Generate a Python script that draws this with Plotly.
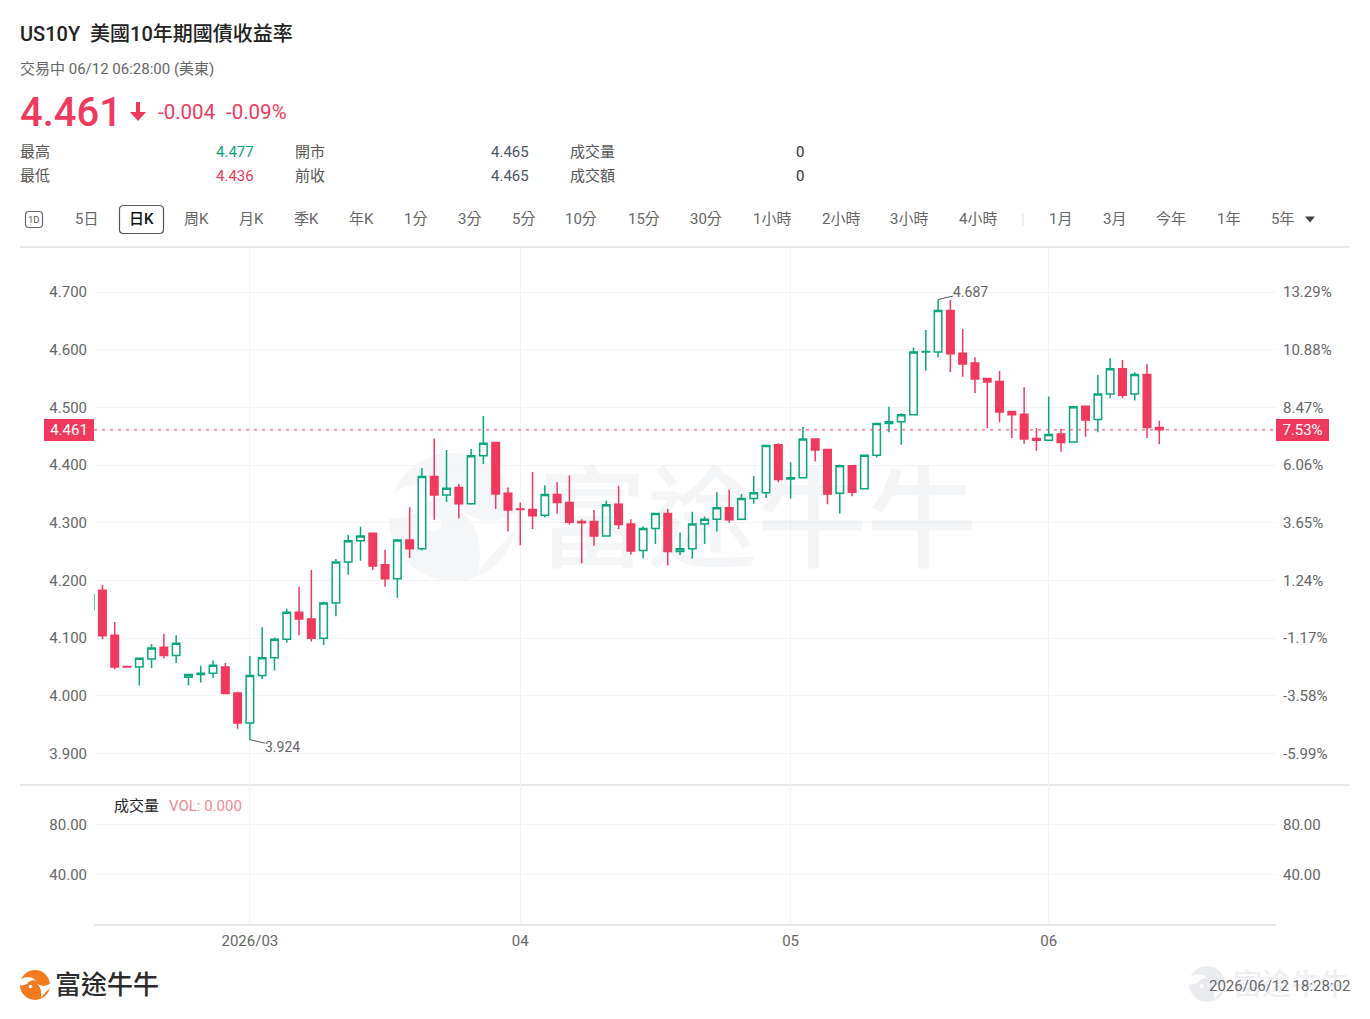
import plotly.graph_objects as go

W, H = 1370, 1019

# Daily bars of the US 10-year yield; session -1 is the one cut off at the left edge.
opens = [
    4.149, 4.183, 4.105, 4.051, 4.050, 4.064, 4.084, 4.070, 4.032, 4.037, 4.039, 4.050,
    4.005, 3.953, 4.035, 4.066, 4.098, 4.145, 4.133, 4.100, 4.161, 4.232, 4.269, 4.282,
    4.227, 4.203, 4.270, 4.255, 4.380, 4.348, 4.361, 4.333, 4.416, 4.439, 4.351, 4.324,
    4.323, 4.313, 4.349, 4.335, 4.302, 4.302, 4.277, 4.332, 4.298, 4.252, 4.290, 4.316,
    4.250, 4.255, 4.298, 4.306, 4.326, 4.306, 4.342, 4.352, 4.435, 4.376, 4.378, 4.445,
    4.427, 4.351, 4.399, 4.359, 4.417, 4.472, 4.475, 4.487, 4.596, 4.596, 4.668, 4.594,
    4.577, 4.550, 4.545, 4.493, 4.488, 4.446, 4.443, 4.454, 4.440, 4.502, 4.479, 4.523,
    4.567, 4.523, 4.557, 4.465,
]
highs = [
    4.175, 4.192, 4.128, 4.051, 4.065, 4.090, 4.107, 4.105, 4.038, 4.052, 4.061, 4.057,
    4.007, 4.069, 4.119, 4.101, 4.151, 4.189, 4.218, 4.163, 4.237, 4.279, 4.293, 4.283,
    4.253, 4.272, 4.327, 4.395, 4.446, 4.426, 4.367, 4.428, 4.485, 4.440, 4.361, 4.335,
    4.388, 4.365, 4.370, 4.382, 4.306, 4.322, 4.338, 4.364, 4.306, 4.294, 4.317, 4.324,
    4.283, 4.319, 4.311, 4.353, 4.357, 4.350, 4.381, 4.435, 4.438, 4.405, 4.466, 4.445,
    4.427, 4.401, 4.400, 4.417, 4.473, 4.501, 4.490, 4.604, 4.634, 4.687, 4.686, 4.636,
    4.587, 4.551, 4.563, 4.494, 4.535, 4.464, 4.519, 4.463, 4.503, 4.503, 4.556, 4.585,
    4.582, 4.561, 4.575, 4.477,
]
lows = [
    4.149, 4.098, 4.046, 4.050, 4.018, 4.048, 4.065, 4.057, 4.018, 4.023, 4.031, 4.003,
    3.943, 3.924, 4.029, 4.044, 4.092, 4.105, 4.094, 4.088, 4.138, 4.210, 4.234, 4.218,
    4.189, 4.170, 4.239, 4.252, 4.305, 4.336, 4.308, 4.331, 4.402, 4.324, 4.285, 4.261,
    4.289, 4.309, 4.316, 4.297, 4.230, 4.260, 4.276, 4.289, 4.245, 4.238, 4.263, 4.226,
    4.244, 4.238, 4.263, 4.285, 4.300, 4.305, 4.333, 4.343, 4.370, 4.342, 4.377, 4.406,
    4.332, 4.316, 4.346, 4.358, 4.413, 4.457, 4.435, 4.486, 4.564, 4.587, 4.561, 4.553,
    4.525, 4.464, 4.474, 4.447, 4.437, 4.425, 4.442, 4.423, 4.439, 4.449, 4.457, 4.516,
    4.516, 4.512, 4.447, 4.436,
]
closes = [
    4.175, 4.104, 4.050, 4.050, 4.065, 4.083, 4.070, 4.091, 4.037, 4.039, 4.053, 4.004,
    3.953, 4.035, 4.066, 4.098, 4.145, 4.133, 4.100, 4.161, 4.232, 4.269, 4.277, 4.225,
    4.203, 4.270, 4.255, 4.380, 4.348, 4.360, 4.333, 4.416, 4.438, 4.350, 4.322, 4.323,
    4.312, 4.349, 4.335, 4.301, 4.300, 4.277, 4.331, 4.297, 4.251, 4.290, 4.316, 4.250,
    4.255, 4.298, 4.306, 4.326, 4.305, 4.342, 4.352, 4.434, 4.375, 4.378, 4.445, 4.426,
    4.350, 4.399, 4.353, 4.417, 4.472, 4.475, 4.487, 4.596, 4.597, 4.668, 4.593, 4.575,
    4.549, 4.544, 4.492, 4.487, 4.445, 4.443, 4.453, 4.439, 4.501, 4.478, 4.523, 4.567,
    4.521, 4.557, 4.465, 4.461,
]
sessions = list(range(-1, len(opens) - 1))
volumes = [0] * len(sessions)

price_ticks = [3.9, 4.0, 4.1, 4.2, 4.3, 4.4, 4.5, 4.6, 4.7]
pct_ticks = [-5.99, -3.58, -1.17, 1.24, 3.65, 6.06, 8.47, 10.88, 13.29]
volume_ticks = [40, 80]
month_ticks = [12, 34, 56, 77]
month_labels = ["2026/03", "04", "05", "06"]

base_price = 4.1485
last_price = 4.461
last_pct = 7.53
low_mark = (12, 3.924)
high_mark = (68, 4.687)

RED = "#ef3a5d"
GREEN = "#0aa67e"
GREY = "#666666"
GRID = "#f4f4f4"
RULE = "#e8e8e8"
FONT = "Roboto, 'Noto Sans CJK TC', sans-serif"

# Panel edges and axis ranges, in page pixels and data units.
LEFT, RIGHT = 94, 1276
PANEL_TOP, PANEL_MID, PANEL_BOTTOM = 247, 785, 925
PRICE_RANGE = [3.8454, 4.778]
PCT_RANGE = [(PRICE_RANGE[0] / base_price - 1) * 100, (PRICE_RANGE[1] / base_price - 1) * 100]
VOLUME_RANGE = [-0.4, 111.6]
SESSION_RANGE = [-0.685, 95.495]


def px(x):
    return x / W


def py(y):
    return 1 - y / H


fig = go.Figure()

fig.add_trace(go.Candlestick(
    x=sessions, open=opens, high=highs, low=lows, close=closes,
    xaxis="x", yaxis="y", whiskerwidth=0, showlegend=False, hoverinfo="skip",
    increasing=dict(line=dict(color=GREEN, width=1.5), fillcolor="#ffffff"),
    decreasing=dict(line=dict(color=RED, width=1.5), fillcolor=RED),
))
# Percent scale on the right shares the price panel.
fig.add_trace(go.Scatter(
    x=sessions, y=[(c / base_price - 1) * 100 for c in closes], xaxis="x", yaxis="y2",
    mode="lines", line=dict(width=0), showlegend=False, hoverinfo="skip",
))
fig.add_trace(go.Bar(
    x=sessions, y=volumes, xaxis="x2", yaxis="y3", marker=dict(color=GREEN, line=dict(width=0)),
    showlegend=False, hoverinfo="skip",
))
fig.add_trace(go.Scatter(
    x=sessions, y=volumes, xaxis="x2", yaxis="y4",
    mode="lines", line=dict(width=0), showlegend=False, hoverinfo="skip",
))

ann = []


def label(x, y, text, size=15, color=GREY, anchor="left", weight=400, family=FONT):
    ann.append(dict(
        x=px(x), y=py(y + 1), xref="paper", yref="paper", text=text, showarrow=False,
        xanchor=anchor, yanchor="middle", align=anchor, borderpad=0, borderwidth=0,
        font=dict(size=size, color=color, family=family, weight=weight),
    ))


def rect(x0, y0, x1, y1, line=None, fill=None, width=1, radius=0, layer="above"):
    if radius:
        r = radius
        sx, sy = r / W, r / H
        a0, a1 = px(x0), px(x1)
        b0, b1 = py(y0), py(y1)
        path = (
            f"M {a0 + sx} {b0} L {a1 - sx} {b0} Q {a1} {b0} {a1} {b0 - sy} "
            f"L {a1} {b1 + sy} Q {a1} {b1} {a1 - sx} {b1} L {a0 + sx} {b1} "
            f"Q {a0} {b1} {a0} {b1 + sy} L {a0} {b0 - sy} Q {a0} {b0} {a0 + sx} {b0} Z"
        )
        return dict(type="path", path=path, xref="paper", yref="paper", layer=layer,
                    line=dict(color=line or "rgba(0,0,0,0)", width=width), fillcolor=fill or "rgba(0,0,0,0)")
    return dict(type="rect", x0=px(x0), x1=px(x1), y0=py(y0), y1=py(y1), xref="paper", yref="paper",
                layer=layer, line=dict(color=line or "rgba(0,0,0,0)", width=width if line else 0),
                fillcolor=fill or "rgba(0,0,0,0)")


def hline(x0, x1, y, color=RULE, width=2):
    return dict(type="line", x0=px(x0), x1=px(x1), y0=py(y), y1=py(y), xref="paper", yref="paper",
                layer="below", line=dict(color=color, width=width))


def brand_mark(cx, cy, r, color, layer="above"):
    """Round brand badge with its two cut-outs, centred on a page position."""
    def pt(u, v):
        return f"{px(cx + u * r):.5f} {py(cy + v * r):.5f}"

    disc = dict(type="circle", x0=px(cx - r), x1=px(cx + r), y0=py(cy + r), y1=py(cy - r),
                xref="paper", yref="paper", layer=layer, fillcolor=color, line=dict(width=0))
    cut_a = (f"M {pt(-1.05, -0.3)} Q {pt(-0.45, -0.75)} {pt(0.1, -0.3)} Q {pt(-0.3, -0.38)} {pt(-0.5, -0.1)} "
             f"Q {pt(-0.7, 0.05)} {pt(-1.05, 0.02)} Z")
    cut_b = (f"M {pt(0.1, -0.12)} Q {pt(0.55, 0.25)} {pt(1.05, -0.12)} L {pt(1.05, 0.15)} "
             f"Q {pt(0.7, 0.45)} {pt(0.4, 0.85)} Q {pt(0.5, 0.2)} {pt(0.1, -0.12)} Z")
    cuts = [dict(type="path", path=p, xref="paper", yref="paper", layer=layer,
                 fillcolor="#ffffff", line=dict(width=0)) for p in (cut_a, cut_b)]
    eye = dict(type="circle", x0=px(cx - 0.42 * r), x1=px(cx - 0.18 * r), y0=py(cy + 0.22 * r), y1=py(cy - 0.02 * r),
               xref="paper", yref="paper", layer=layer, fillcolor="#ffffff", line=dict(width=0))
    return [disc] + cuts + [eye]


# Quote header
label(20, 33.5, "US10Y&nbsp;&nbsp;美國10年期國債收益率", size=20, color="#222222", weight=500)
label(20, 68.5, "交易中 06/12 06:28:00 (美東)")
label(20, 112, "4.461", size=40, color=RED, weight=500)
label(157.5, 111, "-0.004", size=20.5, color=RED)
label(226, 111, "-0.09%", size=20.5, color=RED)

for row_y, name, value, value_color, name2, value2, name3, value3 in [
    (150.5, "最高", "4.477", GREEN, "開市", "4.465", "成交量", "0"),
    (175.5, "最低", "4.436", RED, "前收", "4.465", "成交額", "0"),
]:
    label(20, row_y, name, color="#555555")
    label(254, row_y, value, color=value_color, anchor="right")
    label(295, row_y, name2, color="#555555")
    label(529, row_y, value2, color="#4b5563", anchor="right")
    label(570, row_y, name3, color="#555555")
    label(804, row_y, value3, color="#333333", anchor="right")

# Period selector
tab_labels = ["5日", "周K", "月K", "季K", "年K", "1分", "3分", "5分", "10分", "15分", "30分",
              "1小時", "2小時", "3小時", "4小時", "1月", "3月", "今年", "1年", "5年"]
tab_centres = [87, 196.5, 251.5, 306.5, 361.5, 415, 469, 523, 581, 644, 706,
               772, 841, 909, 978, 1060, 1114, 1171, 1228, 1282]
for name, cx in zip(tab_labels, tab_centres):
    label(cx, 218.5, name, anchor="center")
label(141.5, 218.5, "日K", color="#111111", anchor="center", weight=500)
label(34, 218.5, "1D", size=9.5, anchor="center", color="#555555")

# Chart side labels and leaders
label(113.5, 804.5, "成交量", color="#222222")
label(168.5, 804.5, "VOL: 0.000", color="#ee8a92")

for session, price, ax, ay in [(low_mark[0], low_mark[1], 32.5, 7.5), (high_mark[0], high_mark[1], 32.5, -7.5)]:
    ann.append(dict(
        x=session, y=price, xref="x", yref="y", text=f"{price:.3f}", showarrow=True, arrowhead=0,
        arrowwidth=1, arrowcolor="#555555", ax=ax, ay=ay, standoff=0,
        font=dict(size=14, color=GREY, family=FONT), borderpad=0, borderwidth=0,
    ))

# Last-price tags on both scales
for x_pos, anchor, text, width in [(px(LEFT), "right", f"{last_price:.3f}", 50), (px(RIGHT), "left", f"{last_pct:.2f}%", 53)]:
    ann.append(dict(
        x=x_pos, y=last_price, xref="paper", yref="y", text=text, showarrow=False, xanchor=anchor, yanchor="middle",
        width=width, height=22, bgcolor=RED, borderpad=0, borderwidth=0, align="center",
        font=dict(size=15, color="#ffffff", family=FONT),
    ))

# Brand footer
label(55, 984, "富途牛牛", size=26, color="#2b2b2b", weight=500)
label(1233, 984, "富途牛牛", size=29, color="#eef0f3", weight=500)
label(1350, 985, "2026/06/12 18:28:02", anchor="right")

# Faint wordmark across the price panel
ann.append(dict(
    x=px(537), y=py(521), xref="paper", yref="paper", text="富途牛牛", showarrow=False, xanchor="left",
    yanchor="middle", borderwidth=0, borderpad=0,
    font=dict(size=110, color="rgba(110,120,145,0.075)", family=FONT, weight=500),
))

shapes = []
shapes += [hline(20, 1350, PANEL_TOP), hline(20, 1350, PANEL_MID), hline(LEFT, RIGHT, PANEL_BOTTOM)]
shapes += brand_mark(453, 517, 64, "#f5f6f8", layer="below")
shapes += brand_mark(35, 985, 15, "#f47a1f")
shapes += brand_mark(1207, 984, 18, "#e9ebee", layer="below")
shapes.append(dict(type="line", x0=LEFT / W, x1=RIGHT / W, y0=last_price, y1=last_price, xref="paper", yref="y",
                   layer="above", line=dict(color=RED, width=1, dash="3px,5px")))
shapes.append(rect(119.5, 205.5, 163.5, 233.5, line="#555555", width=1.2, radius=4))
shapes.append(rect(25.5, 211.5, 42.5, 227.5, line="#666666", width=1.2, radius=3.5))
shapes.append(dict(type="line", x0=px(1023), x1=px(1023), y0=py(213), y1=py(226), xref="paper", yref="paper",
                   line=dict(color="#dddddd", width=1)))
shapes.append(dict(type="path", xref="paper", yref="paper", fillcolor="#444444", line=dict(width=0),
                   path=f"M {px(1305)} {py(216.5)} L {px(1315)} {py(216.5)} L {px(1310)} {py(222.5)} Z"))
shapes.append(dict(type="path", xref="paper", yref="paper", fillcolor=RED, line=dict(width=0),
                   path=(f"M {px(136)} {py(102)} L {px(140)} {py(102)} L {px(140)} {py(112)} L {px(146)} {py(112)} "
                         f"L {px(138)} {py(121)} L {px(130)} {py(112)} L {px(136)} {py(112)} Z")))

x_common = dict(
    domain=[px(LEFT), px(RIGHT)], range=SESSION_RANGE, tickmode="array", tickvals=month_ticks,
    showgrid=True, gridcolor=GRID, gridwidth=1, zeroline=False, showline=False,
    rangeslider=dict(visible=False),
)
y_common = dict(showgrid=True, gridcolor=GRID, gridwidth=1, zeroline=False, showline=False,
                tickfont=dict(size=15, color=GREY, family=FONT), ticks="outside", ticklen=3,
                tickcolor="rgba(0,0,0,0)", tickmode="array")
y_side = dict(y_common, showgrid=False, ticklen=3)

fig.update_layout(
    width=W, height=H, autosize=False, margin=dict(l=0, r=0, t=0, b=0),
    paper_bgcolor="#ffffff", plot_bgcolor="rgba(0,0,0,0)", hovermode=False, showlegend=False,
    boxgap=0.39, boxgroupgap=0, bargap=0.3,
    xaxis=dict(x_common, anchor="y", showticklabels=False),
    xaxis2=dict(x_common, anchor="y3", matches="x", showticklabels=True, ticktext=month_labels,
                ticks="outside", ticklen=2, tickcolor="rgba(0,0,0,0)",
                tickfont=dict(size=15, color=GREY, family=FONT)),
    yaxis=dict(y_common, domain=[py(PANEL_MID), py(PANEL_TOP)], range=PRICE_RANGE, anchor="x", side="left",
               tickvals=price_ticks, ticktext=[f"{v:.3f}" for v in price_ticks]),
    yaxis2=dict(y_side, overlaying="y", domain=[py(PANEL_MID), py(PANEL_TOP)], range=PCT_RANGE, anchor="x", side="right",
                tickvals=pct_ticks, ticktext=[f"{v:.2f}%" for v in pct_ticks]),
    yaxis3=dict(y_common, domain=[py(PANEL_BOTTOM), py(PANEL_MID)], range=VOLUME_RANGE, anchor="x2", side="left",
                tickvals=volume_ticks, ticktext=[f"{v:.2f}" for v in volume_ticks]),
    yaxis4=dict(y_side, overlaying="y3", domain=[py(PANEL_BOTTOM), py(PANEL_MID)], range=VOLUME_RANGE, anchor="x2", side="right",
                tickvals=volume_ticks, ticktext=[f"{v:.2f}" for v in volume_ticks]),
    annotations=ann, shapes=shapes,
)

fig.write_html("out.html", config={"displayModeBar": False})
